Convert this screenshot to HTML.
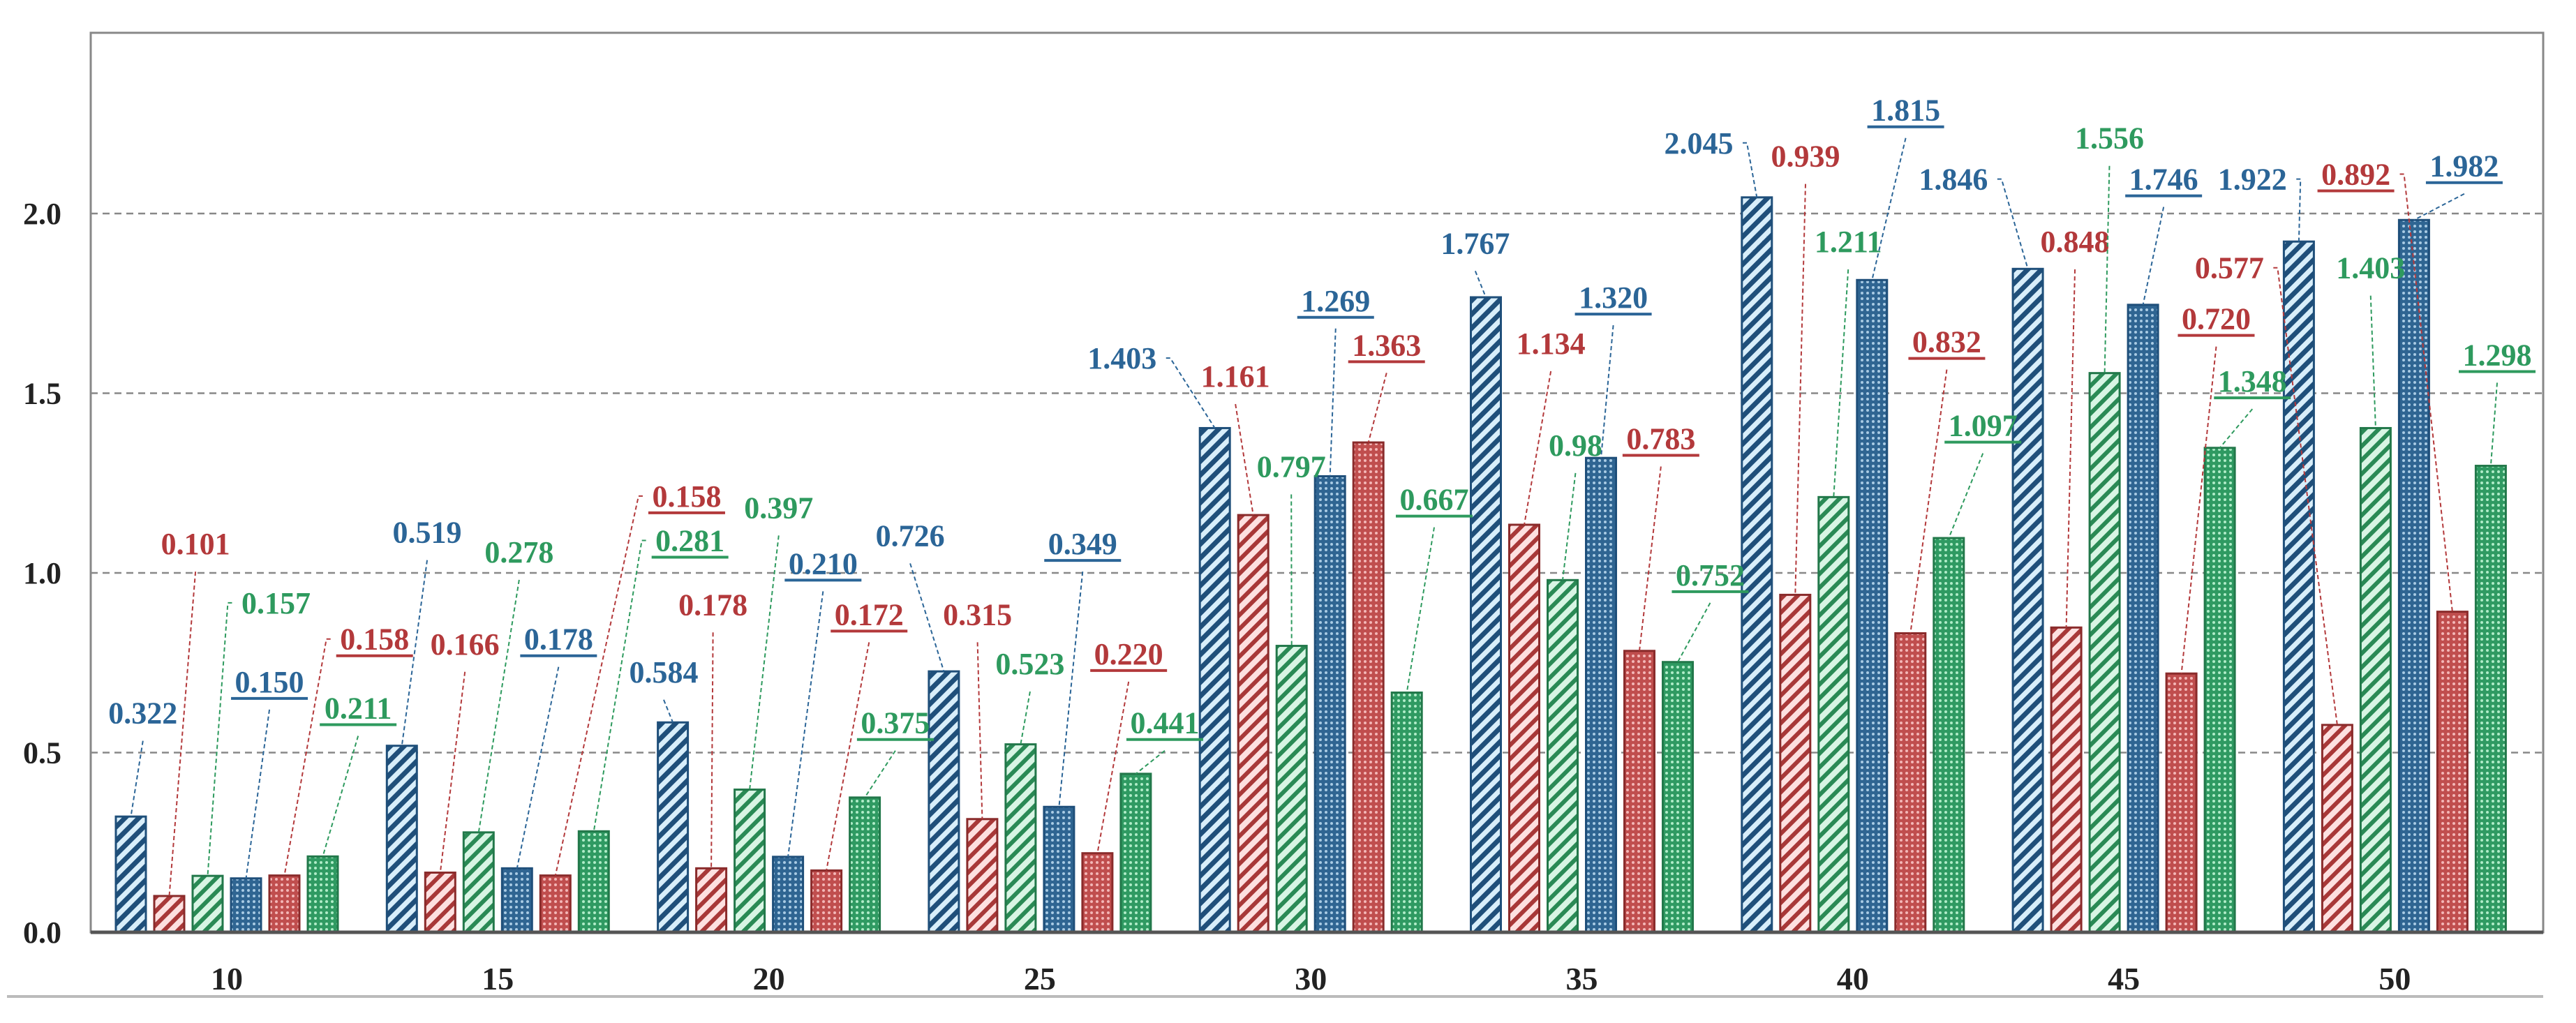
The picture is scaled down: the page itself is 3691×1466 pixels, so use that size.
<!DOCTYPE html>
<html><head><meta charset="utf-8"><style>
html,body{margin:0;padding:0;background:#fff;}
svg{display:block;}
text{font-family:"Liberation Serif",serif;font-weight:bold;}
</style></head><body>
<svg id="chart" width="3691" height="1466" viewBox="0 0 3691 1466" xmlns="http://www.w3.org/2000/svg">
<defs>
<pattern id="hb" patternUnits="userSpaceOnUse" width="14" height="14" patternTransform="rotate(45)"><rect width="14" height="14" fill="#d8eefa"/><rect width="7" height="14" fill="#1f4f7a"/></pattern>
<pattern id="hr" patternUnits="userSpaceOnUse" width="14" height="14" patternTransform="rotate(45)"><rect width="14" height="14" fill="#fde0e0"/><rect width="6" height="14" fill="#a83838"/></pattern>
<pattern id="hg" patternUnits="userSpaceOnUse" width="14" height="14" patternTransform="rotate(45)"><rect width="14" height="14" fill="#d8f5e4"/><rect width="6" height="14" fill="#2a8a55"/></pattern>
<pattern id="cb" patternUnits="userSpaceOnUse" width="8" height="8"><rect width="8" height="8" fill="#2f6592"/><circle cx="4" cy="4" r="2" fill="#a9cbe4"/></pattern>
<pattern id="cr" patternUnits="userSpaceOnUse" width="8" height="8"><rect width="8" height="8" fill="#c04e4e"/><circle cx="4" cy="4" r="2" fill="#f3b7b7"/></pattern>
<pattern id="cg" patternUnits="userSpaceOnUse" width="8" height="8"><rect width="8" height="8" fill="#2f9a62"/><circle cx="4" cy="4" r="2" fill="#b0ecc8"/></pattern>
</defs>
<g id="grid"></g>
<g id="bars"></g>
<g id="labels"></g>
<g id="axes"></g>
</svg>
<script>
const categories = ["10","15","20","25","30","35","40","45","50"];
const blueHatch  = [0.322,0.519,0.584,0.726,1.403,1.767,2.045,1.846,1.922];
const redHatch   = [0.101,0.166,0.178,0.315,1.161,1.134,0.939,0.848,0.577];
const greenHatch = [0.157,0.278,0.397,0.523,0.797,0.98,1.211,1.556,1.403];
const blueCheck  = [0.150,0.178,0.210,0.349,1.269,1.320,1.815,1.746,1.982];
const redCheck   = [0.158,0.158,0.172,0.220,1.363,0.783,0.832,0.720,0.892];
const greenCheck = [0.211,0.281,0.375,0.441,0.667,0.752,1.097,1.348,1.298];
const valueText = {
  blueHatch:["0.322","0.519","0.584","0.726","1.403","1.767","2.045","1.846","1.922"],
  redHatch:["0.101","0.166","0.178","0.315","1.161","1.134","0.939","0.848","0.577"],
  greenHatch:["0.157","0.278","0.397","0.523","0.797","0.98","1.211","1.556","1.403"],
  blueCheck:["0.150","0.178","0.210","0.349","1.269","1.320","1.815","1.746","1.982"],
  redCheck:["0.158","0.158","0.172","0.220","1.363","0.783","0.832","0.720","0.892"],
  greenCheck:["0.211","0.281","0.375","0.441","0.667","0.752","1.097","1.348","1.298"]
};
const yTicks = [0,0.5,1.0,1.5,2.0];
const yTickLabels = ["0.0","0.5","1.0","1.5","2.0"];

// layout (not data): label centres in 1568-wide preview coords + leader anchor mode
const S = 3691/1568;
const labelLayout = {
  blueHatch:[[87,434,'b'],[260,324,'b'],[404,409,'b'],[554,326,'b'],[683,218,'r'],[898,148,'b'],[1034,87,'r'],[1189,109,'r'],[1371,109,'r']],
  redHatch:[[119,331,'b'],[283,392,'b'],[434,368,'b'],[595,374,'b'],[752,229,'b'],[944,209,'b'],[1099,95,'b'],[1263,147,'b'],[1357,163,'r']],
  greenHatch:[[168,367,'l'],[316,336,'b'],[474,309,'b'],[627,404,'b'],[786,284,'b'],[959,271,'b'],[1125,147,'b'],[1284,84,'b'],[1443,163,'b']],
  blueCheck:[[164,415,'b'],[340,389,'b'],[501,343,'b'],[659,331,'b'],[813,183,'b'],[982,181,'b'],[1160,67,'b'],[1317,109,'b'],[1500,101,'b']],
  redCheck:[[228,389,'l'],[418,302,'l'],[529,374,'b'],[687,398,'b'],[844,210,'b'],[1011,267,'b'],[1185,208,'b'],[1349,194,'b'],[1434,106,'r']],
  greenCheck:[[218,431,'b'],[420,329,'l'],[545,440,'b'],[709,440,'b'],[873,304,'b'],[1041,350,'b'],[1207,259,'b'],[1371,232,'b'],[1520,216,'b']]
};
const series = [
  {key:'blueHatch',vals:blueHatch,fill:'url(#hb)',stroke:'#1f4f7a',color:'#2b6597',ul:false},
  {key:'redHatch',vals:redHatch,fill:'url(#hr)',stroke:'#8a2b2b',color:'#b3393b',ul:false},
  {key:'greenHatch',vals:greenHatch,fill:'url(#hg)',stroke:'#22784a',color:'#2e9a5e',ul:false},
  {key:'blueCheck',vals:blueCheck,fill:'url(#cb)',stroke:'#1f4f7a',color:'#2b6597',ul:true},
  {key:'redCheck',vals:redCheck,fill:'url(#cr)',stroke:'#8a2b2b',color:'#b3393b',ul:true},
  {key:'greenCheck',vals:greenCheck,fill:'url(#cg)',stroke:'#22784a',color:'#2e9a5e',ul:true}
];
const L=130,R=3644,T=47,B=1336;
const y = v => B - v*515;
const groupCenter = i => 325 + i*388.3;
const barX = (i,s) => groupCenter(i) - 159 + s*55;
const BW = 43;
const NS='http://www.w3.org/2000/svg';
function mk(tag,parent){const e=document.createElementNS(NS,tag);parent.appendChild(e);return e;}
const grid=document.getElementById('grid'),bars=document.getElementById('bars'),labels=document.getElementById('labels'),axes=document.getElementById('axes');

const frame=mk('rect',axes);


frame.setAttribute('x',L);frame.setAttribute('y',T);frame.setAttribute('width',R-L);frame.setAttribute('height',B-T);
frame.setAttribute('fill','none');frame.setAttribute('stroke','#888');frame.setAttribute('stroke-width','3');
const base=mk('line',axes);


base.setAttribute('x1',L);base.setAttribute('x2',R);base.setAttribute('y1',B);base.setAttribute('y2',B);
base.setAttribute('stroke','#555');base.setAttribute('stroke-width','5');
const bl=mk('line',axes);


bl.setAttribute('x1',10);bl.setAttribute('x2',R);bl.setAttribute('y1',1428);bl.setAttribute('y2',1428);
bl.setAttribute('stroke','#bbb');bl.setAttribute('stroke-width','4');

yTicks.forEach((t,k)=>{
  if(t>0){
    const g=mk('line',grid);
    
    
    g.setAttribute('x1',L);g.setAttribute('x2',R);g.setAttribute('y1',y(t));g.setAttribute('y2',y(t));
    g.setAttribute('stroke','#888');g.setAttribute('stroke-width','2.5');g.setAttribute('stroke-dasharray','10 7');
  }
  const tx=mk('text',axes);
  
  
  tx.setAttribute('x',88);tx.setAttribute('y',y(t)+15);tx.setAttribute('text-anchor','end');
  tx.setAttribute('font-size','44');tx.setAttribute('fill','#222');
  tx.textContent=yTickLabels[k];
});
categories.forEach((c,i)=>{
  const tx=mk('text',axes);
  
  
  tx.setAttribute('x',groupCenter(i));tx.setAttribute('y',1418);tx.setAttribute('text-anchor','middle');
  tx.setAttribute('font-size','46');tx.setAttribute('fill','#222');
  tx.textContent=c;
});
series.forEach((s,si)=>{
  s.vals.forEach((v,i)=>{
    const x=barX(i,si), top=y(v);
    const r=mk('rect',bars);
    
    
    r.setAttribute('x',x);r.setAttribute('y',top);r.setAttribute('width',BW);r.setAttribute('height',B-top);
    r.setAttribute('fill',s.fill);r.setAttribute('stroke',s.stroke);r.setAttribute('stroke-width','3');
    const lay=labelLayout[s.key][i];
    const lx=lay[0]*S, ly=lay[1]*S, mode=lay[2];
    const t=mk('text',labels);
    
    
    t.setAttribute('x',lx);t.setAttribute('y',ly+15);t.setAttribute('text-anchor','middle');
    t.setAttribute('font-size','44');t.setAttribute('fill',s.color);
    t.textContent=valueText[s.key][i];
    const hw=valueText[s.key][i].length*11;
    if(s.ul){
      const u=mk('line',labels);
      
      
      u.setAttribute('x1',lx-hw);u.setAttribute('x2',lx+hw);u.setAttribute('y1',ly+24);u.setAttribute('y2',ly+24);
      u.setAttribute('stroke',s.color);u.setAttribute('stroke-width','4');
    }
    let ax,ay;
    if(mode==='b'){ax=lx;ay=ly+40;}
    else if(mode==='l'){ax=lx-hw-14;ay=ly;}
    else {ax=lx+hw+14;ay=ly;}
    const ld=mk('polyline',labels);
    
    
    const tx=x+BW/2;
    const pts = mode==='b' ? [[ax,ay],[tx,top]] : [[ax+(mode==='l'?6:-6),ay],[ax,ay],[tx,top]];
    ld.setAttribute('points',pts.map(p=>p.join(',')).join(' '));
    ld.setAttribute('fill','none');ld.setAttribute('stroke',s.color);ld.setAttribute('stroke-width','2');ld.setAttribute('stroke-dasharray','6 4');
  });
});
</script>
</body></html>
